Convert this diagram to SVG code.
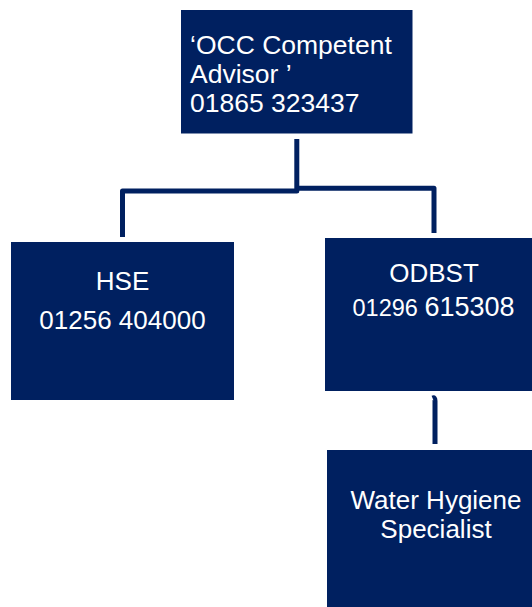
<svg xmlns="http://www.w3.org/2000/svg" width="532" height="607" viewBox="0 0 532 607">
  <style>
    .box { fill: #002060; }
    .t { fill: #ffffff; font-family: "Liberation Sans", Arial, sans-serif; }
    .c { fill: none; stroke: #002060; stroke-width: 5; stroke-linejoin: round; }
  </style>
  <rect width="532" height="607" fill="#ffffff"/>
  <g id="connectors">
    <path class="c" d="M296.8 139 V191 H122.5 V237"/>
    <path class="c" d="M296.8 188.3 H434 V233"/>
    <path class="c" d="M432.5 398 Q435 397 435 401 V444"/>
  </g>
  <g id="occ">
    <rect class="box" x="181" y="10" width="231.5" height="123.5"/>
    <text class="t" font-size="26.5" x="190" y="54">‘OCC Competent</text>
    <text class="t" font-size="26.5" x="190" y="83">Advisor ’</text>
    <text class="t" font-size="26.5" x="190" y="112">01865 323437</text>
  </g>
  <g id="hse">
    <rect class="box" x="11" y="242" width="223" height="158"/>
    <text class="t" font-size="26" x="122.5" y="290" text-anchor="middle">HSE</text>
    <text class="t" font-size="26" x="122.5" y="329" text-anchor="middle">01256 404000</text>
  </g>
  <g id="odbst">
    <rect class="box" x="325" y="238" width="207" height="153"/>
    <text class="t" font-size="26" x="434" y="281.7" text-anchor="middle">ODBST</text>
    <text class="t" x="433.5" y="315.7" text-anchor="middle"><tspan font-size="23.5">01296 </tspan><tspan font-size="27">615308</tspan></text>
  </g>
  <g id="water">
    <rect class="box" x="327" y="450" width="205" height="157"/>
    <text class="t" font-size="26" x="436" y="509" text-anchor="middle">Water Hygiene</text>
    <text class="t" font-size="26" x="436" y="538" text-anchor="middle">Specialist</text>
  </g>
</svg>
